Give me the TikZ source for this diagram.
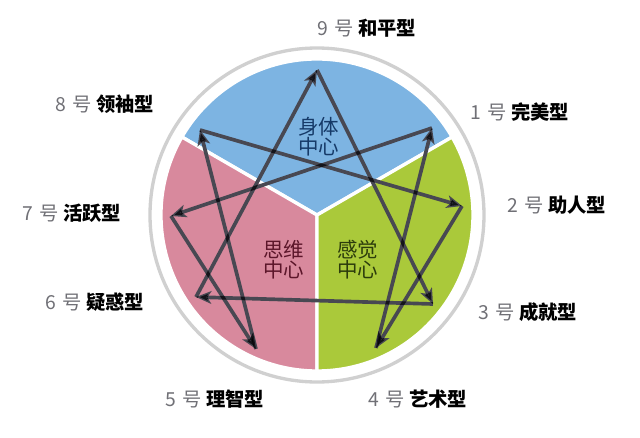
\documentclass[tikz,border=0pt]{standalone}
\usepackage{fontspec}
\setmainfont{Noto Sans CJK SC}
\usetikzlibrary{arrows.meta}

\definecolor{bodyblue}{RGB}{125,180,226}
\definecolor{thinkpink}{RGB}{216,137,157}
\definecolor{feelgreen}{RGB}{170,201,58}
\definecolor{numgray}{RGB}{112,112,118}
\definecolor{ringgray}{RGB}{208,208,208}
\definecolor{linegray}{RGB}{72,72,82}
\definecolor{bodyink}{RGB}{22,58,104}
\definecolor{thinkink}{RGB}{92,22,42}
\definecolor{feelink}{RGB}{44,60,12}

\tikzset{
  typelabel/.style={anchor=west, inner sep=0pt, font=\fontsize{16.5}{18}\selectfont},
  centertext/.style={align=center, inner sep=0pt, font=\fontsize{17.5}{14.5}\selectfont},
  sector/.style={draw=white, line width=0.1cm},
  enneaarrow/.style={line width=0.11cm, draw=linegray,
    -{Stealth[length=4.6mm, width=3.8mm, inset=1.2mm]}}
}
\newcommand{\ennealabel}[2]{{\color{numgray}#1\,\,号}\ \textbf{#2}}

\begin{document}
\begin{tikzpicture}[x=0.03cm, y=0.03cm]
    \useasboundingbox (-317,-222) rectangle (323,215);

    % Outer ring
    \draw[ringgray, line width=0.1cm] (0,0) circle (167);

    % Three centres
    \filldraw[sector, fill=bodyblue] (0,0) -- (30:156) arc (30:150:156) -- cycle;
    \filldraw[sector, fill=thinkpink] (0,0) -- (150:156) arc (150:270:156) -- cycle;
    \filldraw[sector, fill=feelgreen] (0,0) -- (270:156) arc (270:390:156) -- cycle;

    \node[centertext, text=bodyink] (body) at (2,78) {身体\\中心};
    \node[centertext, text=thinkink] (think) at (-33,-45) {思维\\中心};
    \node[centertext, text=feelink] (feel) at (41,-45) {感觉\\中心};

    % Points of the figure
    \coordinate (p9) at (0,145);
    \coordinate (p1) at (115,87);
    \coordinate (p2) at (145,9);
    \coordinate (p3) at (116,-89);
    \coordinate (p4) at (59,-133);
    \coordinate (p5) at (-61,-134);
    \coordinate (p6) at (-121,-82);
    \coordinate (p7) at (-146,-1);
    \coordinate (p8) at (-117,85);

    % Arrows: triangle and hexad
    \begin{scope}[blend group=multiply]
        \draw[enneaarrow] (p9) -- (p3);
        \draw[enneaarrow] (p3) -- (p6);
        \draw[enneaarrow] (p6) -- (p9);
        \draw[enneaarrow] (p1) -- (p7);
        \draw[enneaarrow] (p7) -- (p5);
        \draw[enneaarrow] (p5) -- (p8);
        \draw[enneaarrow] (p8) -- (p2);
        \draw[enneaarrow] (p2) -- (p4);
        \draw[enneaarrow] (p4) -- (p1);
    \end{scope}

    % Type labels
    \node[typelabel] (l9) at (0,187) {\ennealabel{9}{和平型}};
    \node[typelabel] (l1) at (153,103) {\ennealabel{1}{完美型}};
    \node[typelabel] (l2) at (190,10) {\ennealabel{2}{助人型}};
    \node[typelabel] (l3) at (161,-97) {\ennealabel{3}{成就型}};
    \node[typelabel] (l4) at (51,-184) {\ennealabel{4}{艺术型}};
    \node[typelabel] (l5) at (-152,-184) {\ennealabel{5}{理智型}};
    \node[typelabel] (l6) at (-272,-87) {\ennealabel{6}{疑惑型}};
    \node[typelabel] (l7) at (-295,2) {\ennealabel{7}{活跃型}};
    \node[typelabel] (l8) at (-262,111) {\ennealabel{8}{领袖型}};
\end{tikzpicture}
\end{document}
